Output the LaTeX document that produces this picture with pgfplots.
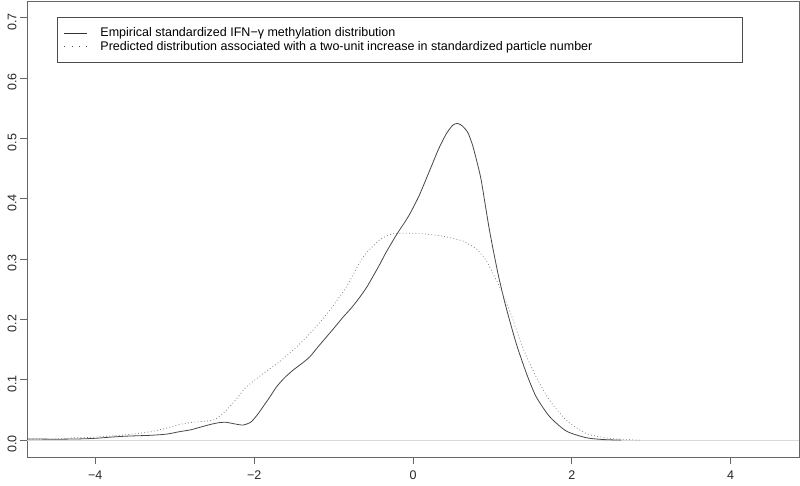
\documentclass[border=0pt]{standalone}
\usepackage{pgfplots}
\pgfplotsset{compat=1.18}
\usepackage{fontspec}
\setmainfont{Liberation Sans}

\pgfplotstableread{
x y
-4.87 0.002
-4.50 0.0015
-4.20 0.002
-4.00 0.003
-3.80 0.005
-3.60 0.0066
-3.30 0.008
-3.10 0.010
-2.94 0.014
-2.80 0.017
-2.69 0.021
-2.55 0.026
-2.44 0.029
-2.35 0.0295
-2.25 0.027
-2.14 0.025
-2.04 0.030
-1.96 0.042
-1.89 0.055
-1.80 0.072
-1.72 0.088
-1.62 0.103
-1.51 0.116
-1.40 0.127
-1.30 0.138
-1.20 0.154
-1.09 0.171
-0.98 0.188
-0.88 0.204
-0.77 0.220
-0.67 0.237
-0.58 0.254
-0.51 0.270
-0.42 0.291
-0.34 0.311
-0.21 0.340
-0.10 0.362
-0.04 0.375
0.00 0.385
0.08 0.406
0.21 0.447
0.32 0.482
0.42 0.508
0.50 0.522
0.56 0.525
0.62 0.521
0.69 0.510
0.75 0.489
0.80 0.464
0.86 0.430
0.96 0.350
1.07 0.276
1.17 0.221
1.30 0.160
1.43 0.110
1.55 0.072
1.72 0.039
1.93 0.015
2.18 0.004
2.39 0.001
2.62 0.000
}\empirical

\pgfplotstableread{
x y
-4.87 0.001
-4.50 0.002
-4.24 0.004
-4.00 0.005
-3.60 0.009
-3.30 0.014
-3.10 0.020
-2.94 0.026
-2.75 0.030
-2.52 0.033
-2.41 0.042
-2.31 0.055
-2.20 0.072
-2.10 0.088
-1.89 0.110
-1.68 0.130
-1.47 0.154
-1.26 0.182
-1.05 0.215
-0.84 0.254
-0.63 0.303
-0.42 0.332
-0.25 0.342
0.00 0.343
0.21 0.341
0.42 0.337
0.63 0.330
0.71 0.324
0.80 0.317
0.92 0.298
1.00 0.278
1.13 0.243
1.26 0.199
1.38 0.154
1.55 0.105
1.72 0.066
1.93 0.033
2.18 0.011
2.47 0.003
2.85 0.000
}\predicted

\begin{document}
\begin{tikzpicture}
\begin{axis}[
  scale only axis,
  width=772pt, height=456pt,
  xmin=-4.86, xmax=4.86,
  ymin=-0.028, ymax=0.728,
  xtick={-4,-2,0,2,4},
  xticklabels={−4,−2,0,2,4},
  ytick={0,0.1,0.2,0.3,0.4,0.5,0.6,0.7},
  yticklabels={0.0,0.1,0.2,0.3,0.4,0.5,0.6,0.7},
  xtick pos=bottom, ytick pos=left,
  tick align=outside,
  major tick length=7pt,
  axis line style={black!60, line width=0.8pt},
  tick style={black!60, line width=0.8pt},
  ticklabel style={font=\fontsize{12.5}{14}\selectfont, text=black!85},
  xticklabel style={yshift=-3pt},
  yticklabel style={rotate=90, anchor=south, xshift=-4pt},
  legend cell align=left,
  legend style={
    at={(rel axis cs:0.0389,0.965)}, anchor=north west,
    draw=black!70, line width=0.8pt, fill=white,
    inner xsep=6pt, inner ysep=8.5pt,
    column sep=10pt, row sep=-1pt,
    font=\fontsize{12.5}{14}\selectfont,
    nodes={inner sep=2pt, text depth=0.15em},
  },
]
\addplot[black!15, line width=0.6pt, forget plot] coordinates {(-4.86,0) (4.86,0)};
\addplot[black!72, line width=0.8pt, smooth, tension=0.4,
  legend image code/.code={\draw[black!80, line width=1.1pt] (0pt,0pt) -- (23pt,0pt);}]
  table[x=x,y=y] {\empirical};
\addlegendentry{Empirical standardized IFN−γ methylation distribution}
\addplot[black!50, line width=0.8pt, smooth, tension=0.4, dash pattern=on 0.8pt off 2.4pt,
  legend image code/.code={\draw[black!70, line width=1pt, dash pattern=on 1pt off 6.3pt] (0.5pt,0pt) -- (24pt,0pt);}]
  table[x=x,y=y] {\predicted};
\addlegendentry{\makebox[634pt][l]{Predicted distribution associated with a two-unit increase in standardized particle number}}
\end{axis}
\pgfresetboundingbox
\path ([xshift=-27pt,yshift=-28pt]current axis.south west) rectangle ([xshift=1pt,yshift=1pt]current axis.north east);
\end{tikzpicture}
\end{document}
